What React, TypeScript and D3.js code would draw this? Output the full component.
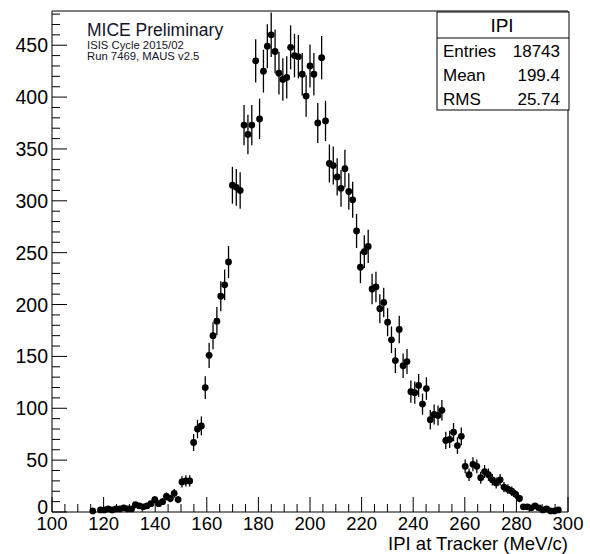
import React from "react";
import * as d3 from "d3";

// Histogram: 133 bins from 100 to 300 MeV/c, first drawn bin index = 10
const firstBin = 10;
const nBins = 133;
const xMin = 100;
const xMax = 300;
const counts = [
  1, 0, 2, 2, 3, 2, 3, 3, 4, 3,
  3, 7, 6, 5, 6, 8, 12, 8, 10, 15,
  13, 18, 12, 29, 30, 30, 67, 80, 83, 120,
  151, 170, 184, 208, 219, 241, 315, 313, 310, 373,
  364, 373, 435, 379, 425, 449, 460, 444, 423, 417,
  419, 448, 440, 439, 422, 401, 430, 422, 375, 438,
  377, 336, 334, 323, 312, 331, 309, 301, 271, 236,
  251, 256, 215, 217, 196, 202, 183, 166, 146, 176,
  141, 145, 116, 115, 122, 104, 119, 89, 94, 93,
  98, 69, 70, 77, 64, 73, 44, 36, 46, 44,
  33, 39, 36, 31, 28, 31, 24, 22, 20, 17,
  13, 5, 5, 4, 6, 4, 2, 3, 1, 1,
  2,
];

const xTickLabels = [100, 120, 140, 160, 180, 200, 220, 240, 260, 280, 300];
const yTickLabels = [0, 50, 100, 150, 200, 250, 300, 350, 400, 450];
const statLabels = ["Entries", "Mean", "RMS"];
const statValues = ["18743", "199.4", "25.74"];
const histTitle = "IPI";
const xTitle = "IPI at Tracker (MeV/c)";
const noteLines = ["MICE Preliminary", "ISIS Cycle 2015/02", "Run 7469, MAUS v2.5"];

export default function App() {
  const W = 590;
  const H = 554;
  const L = 52;
  const R = 568;
  const T = 11;
  const B = 512;
  const yMax = 483;
  const x = d3.scaleLinear().domain([xMin, xMax]).range([L, R]);
  const y = d3.scaleLinear().domain([0, yMax]).range([B, T]);
  const bw = (xMax - xMin) / nBins;
  const font = "'Liberation Sans', Arial, Helvetica, sans-serif";

  const pts = counts
    .map((c, i) => {
      const k = firstBin + i;
      const lo = xMin + k * bw;
      return { lo, hi: lo + bw, c: xMin + (k + 0.5) * bw, v: c };
    })
    .filter((p) => p.v > 0);

  const yMinor = d3.range(0, yMax + 1, 10);
  const xMinor = d3.range(xMin, xMax + 0.1, 5);

  return (
    <svg
      width={W}
      height={H}
      style={{ position: "absolute", left: 0, top: 0, background: "#fff" }}
      fontFamily={font}
    >
      <rect x={0} y={0} width={W} height={H} fill="#fff" />
      {/* frame */}
      <line x1={L} x2={R} y1={T} y2={T} stroke="#555" strokeWidth={1.5} />
      <line x1={R} x2={R} y1={T} y2={B} stroke="#555" strokeWidth={1.5} />
      <line x1={L} x2={L} y1={T} y2={B} stroke="#000" strokeWidth={1} />
      <line x1={L} x2={R} y1={B} y2={B} stroke="#000" strokeWidth={1} />

      {/* y ticks */}
      {yMinor.map((v) => {
        const major = v % 50 === 0;
        return (
          <line key={"yt" + v} x1={L} x2={L + (major ? 15 : 8)} y1={y(v)} y2={y(v)} stroke="#000" strokeWidth={1} />
        );
      })}
      {yTickLabels.map((v) => (
        <text key={"yl" + v} x={L - 4} y={y(v) + (v === 0 ? 2 : 7)} fontSize={19.5} textAnchor="end" fill="#000">
          {v}
        </text>
      ))}

      {/* x ticks */}
      {xMinor.map((v) => {
        const major = v % 20 === 0;
        return (
          <line key={"xt" + v} x1={x(v)} x2={x(v)} y1={B} y2={B - (major ? 15 : 8)} stroke="#000" strokeWidth={1} />
        );
      })}
      {xTickLabels.map((v) => (
        <text key={"xl" + v} x={x(v)} y={B + 18} fontSize={18.5} textAnchor="middle" fill="#000">
          {v}
        </text>
      ))}
      <text x={R} y={549.5} fontSize={18.5} textAnchor="end" fill="#000">
        {xTitle}
      </text>

      {/* data */}
      {pts.map((p, i) => {
        const e = Math.sqrt(p.v);
        return (
          <g key={"p" + i}>
            <line x1={x(p.c)} x2={x(p.c)} y1={y(p.v + e)} y2={y(Math.max(0, p.v - e))} stroke="#000" strokeWidth={1.3} />
            <line x1={x(p.lo)} x2={x(p.hi)} y1={y(p.v)} y2={y(p.v)} stroke="#000" strokeWidth={1.3} />
            <circle cx={x(p.c)} cy={y(p.v)} r={3.4} fill="#000" />
          </g>
        );
      })}

      {/* note text */}
      <text x={87} y={36} fontSize={17.5} fill="#141428">{noteLines[0]}</text>
      <text x={87} y={48.5} fontSize={11.3} fill="#141428">{noteLines[1]}</text>
      <text x={87} y={60} fontSize={11.3} fill="#141428">{noteLines[2]}</text>

      {/* stats box */}
      <rect x={437} y={12} width={132} height={98} fill="#fff" stroke="#000" strokeWidth={1} />
      <line x1={437} x2={569} y1={38} y2={38} stroke="#000" strokeWidth={1} />
      <text x={502} y={32} fontSize={19} textAnchor="middle" fill="#000">{histTitle}</text>
      {statLabels.map((s, i) => (
        <g key={"st" + i}>
          <text x={443} y={57 + i * 24} fontSize={17} fill="#000">{s}</text>
          <text x={560} y={57 + i * 24} fontSize={17} textAnchor="end" fill="#000">{statValues[i]}</text>
        </g>
      ))}
    </svg>
  );
}
